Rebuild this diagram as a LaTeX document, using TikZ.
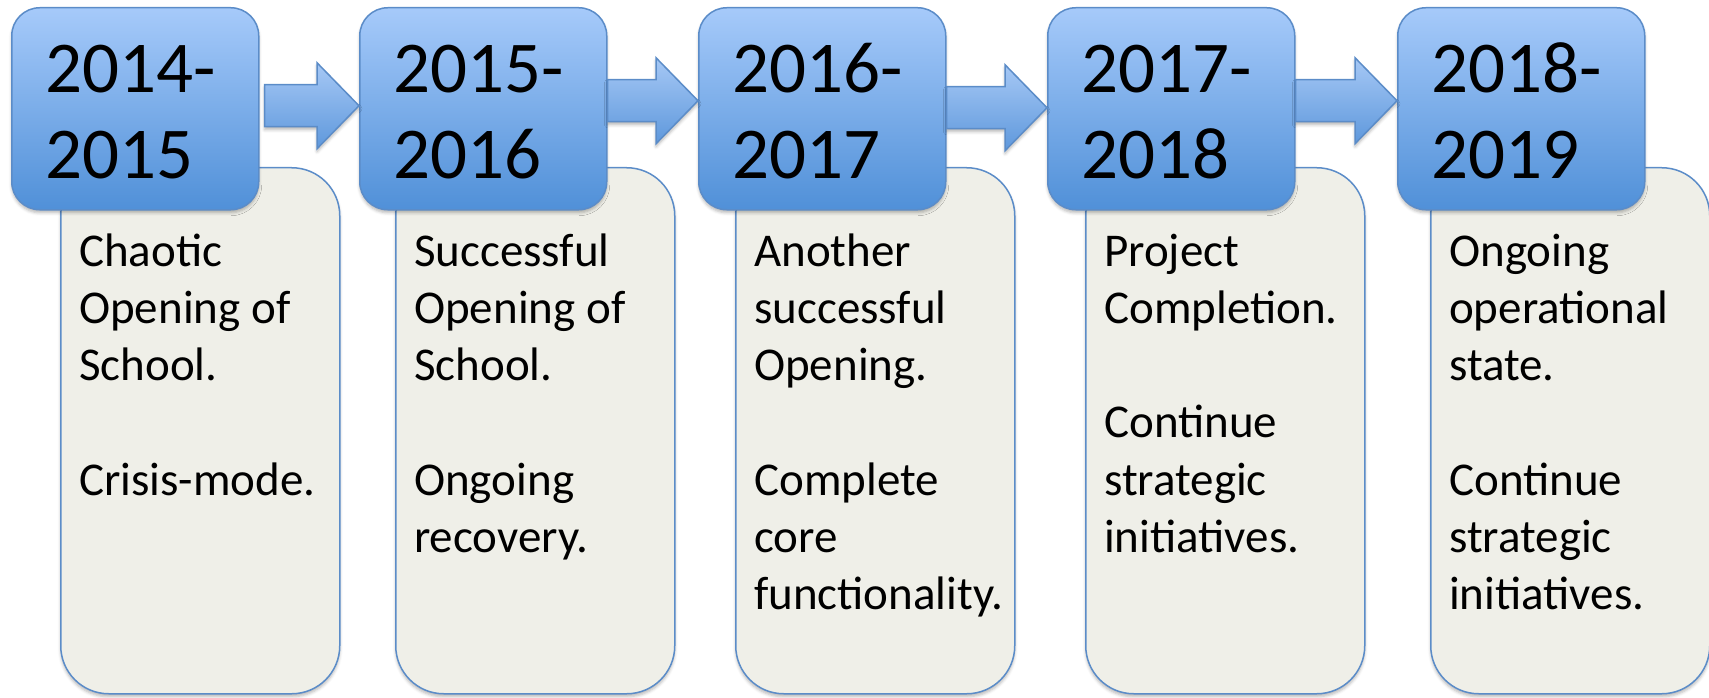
\documentclass[tikz,border=0pt]{standalone}
\usepackage{fontspec}
\setmainfont{Carlito}
\usetikzlibrary{calc,shadows.blur}

\definecolor{boxtop}{HTML}{A6CAFA}
\definecolor{boxbot}{HTML}{5090D8}
\definecolor{edgeblue}{HTML}{5B8CC8}
\definecolor{notefill}{HTML}{EFEFE8}
\definecolor{arrtop}{HTML}{A6C8F5}
\definecolor{arrbot}{HTML}{5E98DC}

\tikzset{
  softshadow/.style={blur shadow={shadow xshift=0pt,shadow yshift=-3pt,
      shadow blur radius=3pt,shadow opacity=28}},
  yearbox/.style={draw=edgeblue,line width=1.5pt,top color=boxtop,bottom color=boxbot,
      rounded corners=28pt,minimum width=247pt,minimum height=202pt,inner sep=0pt,
      anchor=north west,softshadow},
  notebox/.style={draw=edgeblue,line width=1.5pt,fill=notefill,rounded corners=48pt,
      minimum width=279pt,minimum height=526pt,inner sep=0pt,anchor=north west,softshadow},
  yeartext/.style={anchor=base west,inner sep=0pt,text width=220pt,align=flush left,
      font=\fontsize{73pt}{86pt}\selectfont},
  notetext/.style={anchor=base west,inner sep=0pt,text width=262pt,align=flush left,
      font=\fontsize{47pt}{57.3pt}\selectfont},
  linkarrow/.style={draw=edgeblue,line width=1.5pt,top color=arrtop,bottom color=arrbot,
      softshadow},
}

% block arrow from the east side of box #1 to the west side of box #2,
% its axis raised by #3 pt above the boxes' centre line, its tail #4 pt off the box
\newcommand\blockarrow[4]{%
  \path[linkarrow] let \p1=(#1.east), \p2=(#2.west) in
    (\x1+#4pt,\y2+#3pt+21pt) -- (\x2-42pt,\y2+#3pt+21pt) -- (\x2-42pt,\y2+#3pt+43pt)
    -- (\x2,\y2+#3pt) -- (\x2-42pt,\y2+#3pt-43pt) -- (\x2-42pt,\y2+#3pt-21pt)
    -- (\x1+#4pt,\y2+#3pt-21pt) -- cycle;}

\begin{document}
\begin{tikzpicture}[x=1pt,y=-1pt]
\useasboundingbox (0,0) rectangle (1709,698);

% description panels
\node[notebox] (dsc1) at (60,167) {};
\node[notebox] (dsc2) at (395,167) {};
\node[notebox] (dsc3) at (735,167) {};
\node[notebox] (dsc4) at (1085,167) {};
\node[notebox] (dsc5) at (1430,167) {};

% year boxes
\node[yearbox] (yr1) at (11,7) {};
\node[yearbox] (yr2) at (359,7) {};
\node[yearbox] (yr3) at (698,7) {};
\node[yearbox] (yr4) at (1047,7) {};
\node[yearbox] (yr5) at (1397,7) {};

% arrows between consecutive years
\blockarrow{yr1}{yr2}{3}{5}
\blockarrow{yr2}{yr3}{8}{0}
\blockarrow{yr3}{yr4}{1}{0}
\blockarrow{yr4}{yr5}{8}{0}

% year labels
\node[yeartext] (ylab1) at (45,93) {2014-\\2015};
\node[yeartext] (ylab2) at (393,93) {2015-\\2016};
\node[yeartext] (ylab3) at (732,93) {2016-\\2017};
\node[yeartext] (ylab4) at (1081,93) {2017-\\2018};
\node[yeartext] (ylab5) at (1431,93) {2018-\\2019};

% descriptions
\node[notetext] (dlab1) at (79,266) {Chaotic\\Opening of\\School.\\[57.3pt]Crisis-mode.};
\node[notetext] (dlab2) at (414,266) {Successful\\Opening of\\School.\\[57.3pt]Ongoing\\recovery.};
\node[notetext] (dlab3) at (754,266) {Another\\successful\\Opening.\\[57.3pt]Complete\\core\\functionality.};
\node[notetext] (dlab4) at (1104,266) {Project\\Completion.\\[57.3pt]Continue\\strategic\\initiatives.};
\node[notetext] (dlab5) at (1449,266) {Ongoing\\operational\\state.\\[57.3pt]Continue\\strategic\\initiatives.};
\end{tikzpicture}
\end{document}
